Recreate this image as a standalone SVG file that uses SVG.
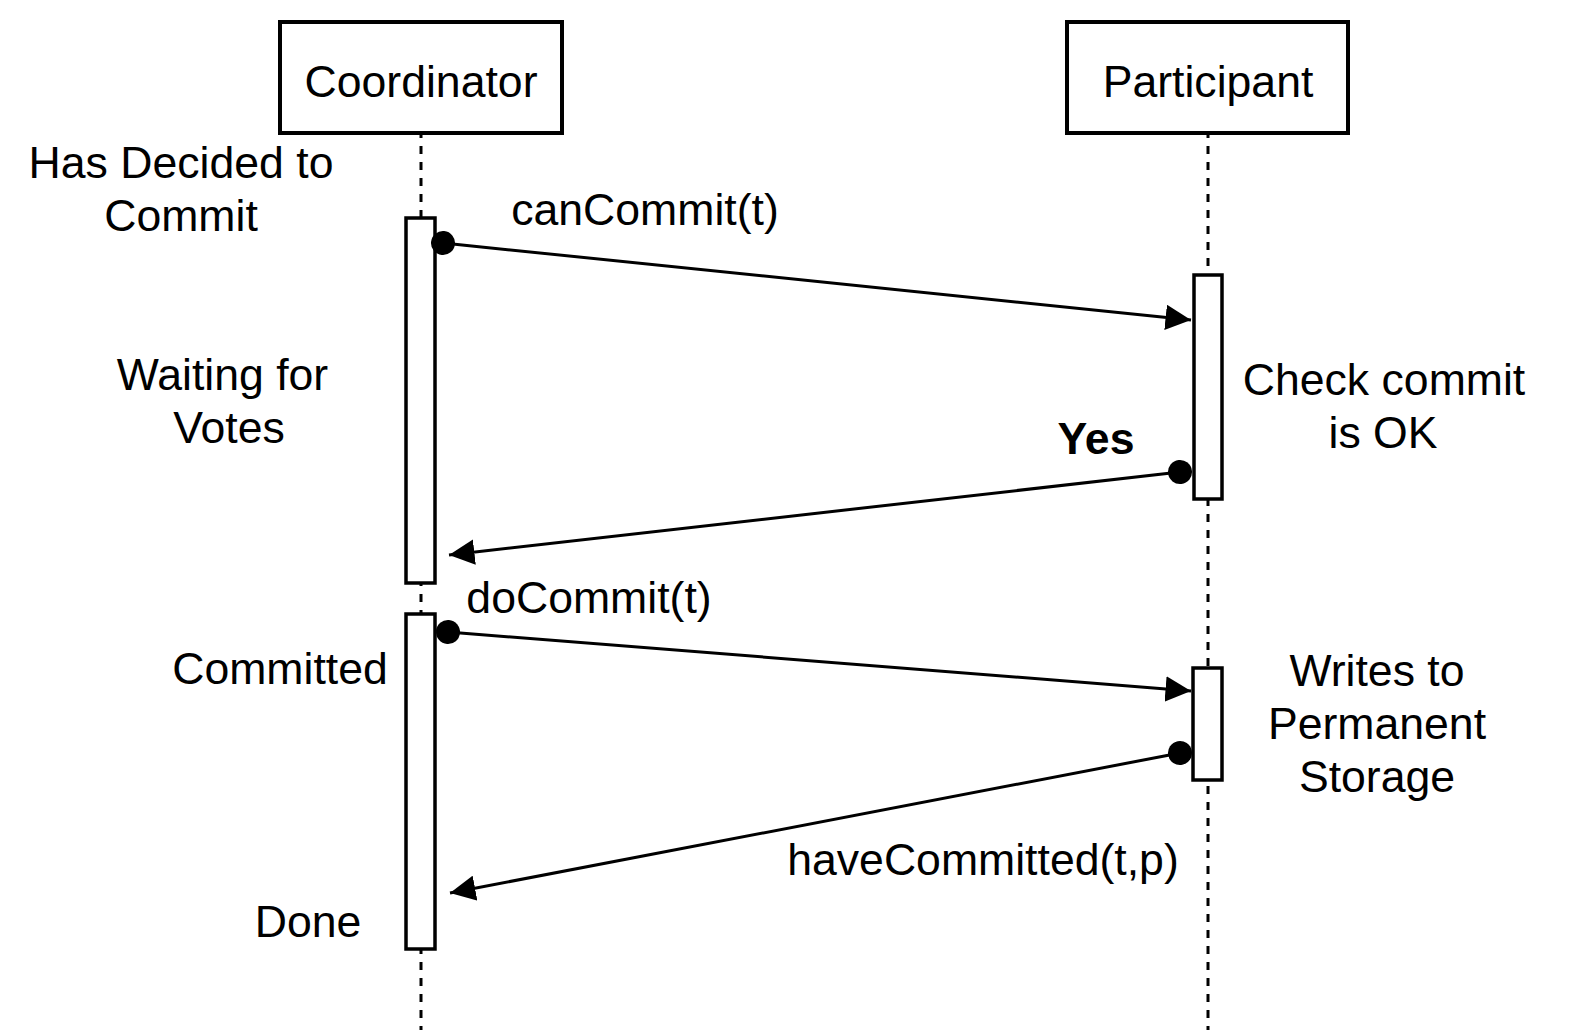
<svg xmlns="http://www.w3.org/2000/svg" width="1589" height="1030" viewBox="0 0 1589 1030">
<style>
text{font-family:"Liberation Sans",Arial,sans-serif;font-size:44.6px;fill:#000;text-anchor:middle}
.box{fill:#fff;stroke:#000;stroke-width:4}
.act{fill:#fff;stroke:#000;stroke-width:3.5}
.life{stroke:#000;stroke-width:3;stroke-dasharray:8 8;fill:none}
.msg{stroke:#000;stroke-width:3;fill:none;marker-start:url(#dot);marker-end:url(#arr)}
</style>
<defs>
<marker id="arr" viewBox="0 0 10 10" refX="10" refY="5" markerWidth="8.5" markerHeight="8.5" markerUnits="strokeWidth" orient="auto">
<path d="M0,0 L10,5 L0,10 z" fill="#000"/>
</marker>
<marker id="dot" viewBox="0 0 10 10" refX="5" refY="5" markerWidth="8" markerHeight="8" markerUnits="strokeWidth" orient="auto">
<circle cx="5" cy="5" r="5" fill="#000"/>
</marker>
</defs>
<rect width="1589" height="1030" fill="#fff"/>
<g id="lifelines">
<line class="life" x1="421" y1="130" x2="421" y2="1040"/>
<line class="life" x1="1208" y1="130" x2="1208" y2="1040"/>
</g>
<g id="coordinator"><rect class="box" x="280" y="22" width="282" height="111"/><text x="421" y="97">Coordinator</text></g>
<g id="participant"><rect class="box" x="1067" y="22" width="281" height="111"/><text x="1208" y="97">Participant</text></g>
<g id="coord-act1"><rect class="act" x="406" y="218" width="29" height="365"/></g>
<g id="coord-act2"><rect class="act" x="406" y="614" width="29" height="335"/></g>
<g id="part-act1"><rect class="act" x="1194" y="275" width="28" height="224"/></g>
<g id="part-act2"><rect class="act" x="1193" y="668" width="29" height="112"/></g>
<g id="connectors">
<line class="msg" x1="443" y1="243" x2="1191" y2="320"/>
<line class="msg" x1="1180" y1="472" x2="449" y2="555"/>
<line class="msg" x1="448" y1="632" x2="1191" y2="691"/>
<line class="msg" x1="1180" y1="753" x2="450" y2="893"/>
</g>
<g id="labels">
<text x="181" y="178">Has Decided to</text>
<text x="181" y="231">Commit</text>
<text x="645" y="225">canCommit(t)</text>
<text x="222.5" y="390">Waiting for</text>
<text x="229" y="443">Votes</text>
<text x="1384" y="395">Check commit</text>
<text x="1383" y="448">is OK</text>
<text x="1096" y="454" font-weight="bold">Yes</text>
<text x="589" y="613">doCommit(t)</text>
<text x="280" y="684">Committed</text>
<text x="1377" y="686">Writes to</text>
<text x="1377" y="739">Permanent</text>
<text x="1377" y="792">Storage</text>
<text x="983" y="875">haveCommitted(t,p)</text>
<text x="308" y="937">Done</text>
</g>
</svg>
